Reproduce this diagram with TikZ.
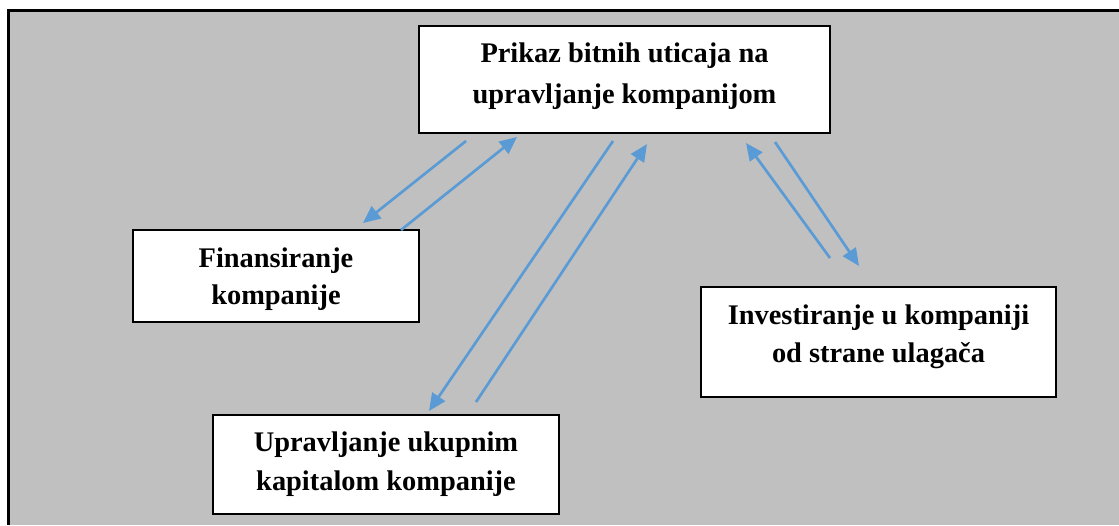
\documentclass[tikz,border=0pt]{standalone}
\usepackage{fontspec}
\setmainfont{Liberation Serif}
\usetikzlibrary{arrows.meta}
\definecolor{panel}{HTML}{C0C0C0}
\definecolor{flow}{HTML}{5B9BD5}
\begin{document}
\begin{tikzpicture}[x=0.75pt,y=-0.75pt,
  box/.style={draw=black,line width=0.8pt,fill=white,inner sep=0pt},
  lbl/.style={font=\fontsize{21.3}{29}\selectfont\bfseries,anchor=base,inner sep=0pt},
  flowarrow/.style={draw=flow,line width=2pt,-{Triangle[length=13pt,width=11.5pt]}}]
\useasboundingbox (0,0) rectangle (1119,525);
% grey panel with its frame
\fill[panel] (8,10) rectangle (1119,525);
\draw[line width=2.25pt] (8,525) -- (8,10) -- (1119,10);

% boxes
\node[box,minimum width=308.25pt,minimum height=80.25pt] (main) at (624.5,79.5) {};
\node[box,minimum width=214.5pt,minimum height=69pt] (fin) at (276,276) {};
\node[box,minimum width=266.25pt,minimum height=82.5pt] (inv) at (878.5,342) {};
\node[box,minimum width=259.5pt,minimum height=74.25pt] (cap) at (386,464.5) {};

% box texts
\node[lbl] (main1) at (624.5,62) {Prikaz bitnih uticaja na};
\node[lbl] (main2) at (624.5,103) {upravljanje kompanijom};
\node[lbl] (fin1) at (276,267) {Finansiranje};
\node[lbl] (fin2) at (276,304) {kompanije};
\node[lbl] (inv1) at (878.5,324) {Investiranje u kompaniji};
\node[lbl] (inv2) at (878.5,362) {od strane ulagača};
\node[lbl] (cap1) at (386,451) {Upravljanje ukupnim};
\node[lbl] (cap2) at (386,490) {kapitalom kompanije};

% arrow ends
\coordinate (mainFinOut) at (466,141);
\coordinate (finIn) at (363,223);
\coordinate (finOut) at (401,230);
\coordinate (mainFinIn) at (517,137);
\coordinate (mainCapOut) at (613,141);
\coordinate (capIn) at (429,411);
\coordinate (capOut) at (476,402);
\coordinate (mainCapIn) at (647,144);
\coordinate (invOut) at (830,258);
\coordinate (mainInvIn) at (746,143);
\coordinate (mainInvOut) at (775,142);
\coordinate (invIn) at (859,266);

% arrows
\draw[flowarrow] (mainFinOut) -- (finIn);
\draw[flowarrow] (finOut) -- (mainFinIn);
\draw[flowarrow] (mainCapOut) -- (capIn);
\draw[flowarrow] (capOut) -- (mainCapIn);
\draw[flowarrow] (invOut) -- (mainInvIn);
\draw[flowarrow] (mainInvOut) -- (invIn);
\end{tikzpicture}
\end{document}
